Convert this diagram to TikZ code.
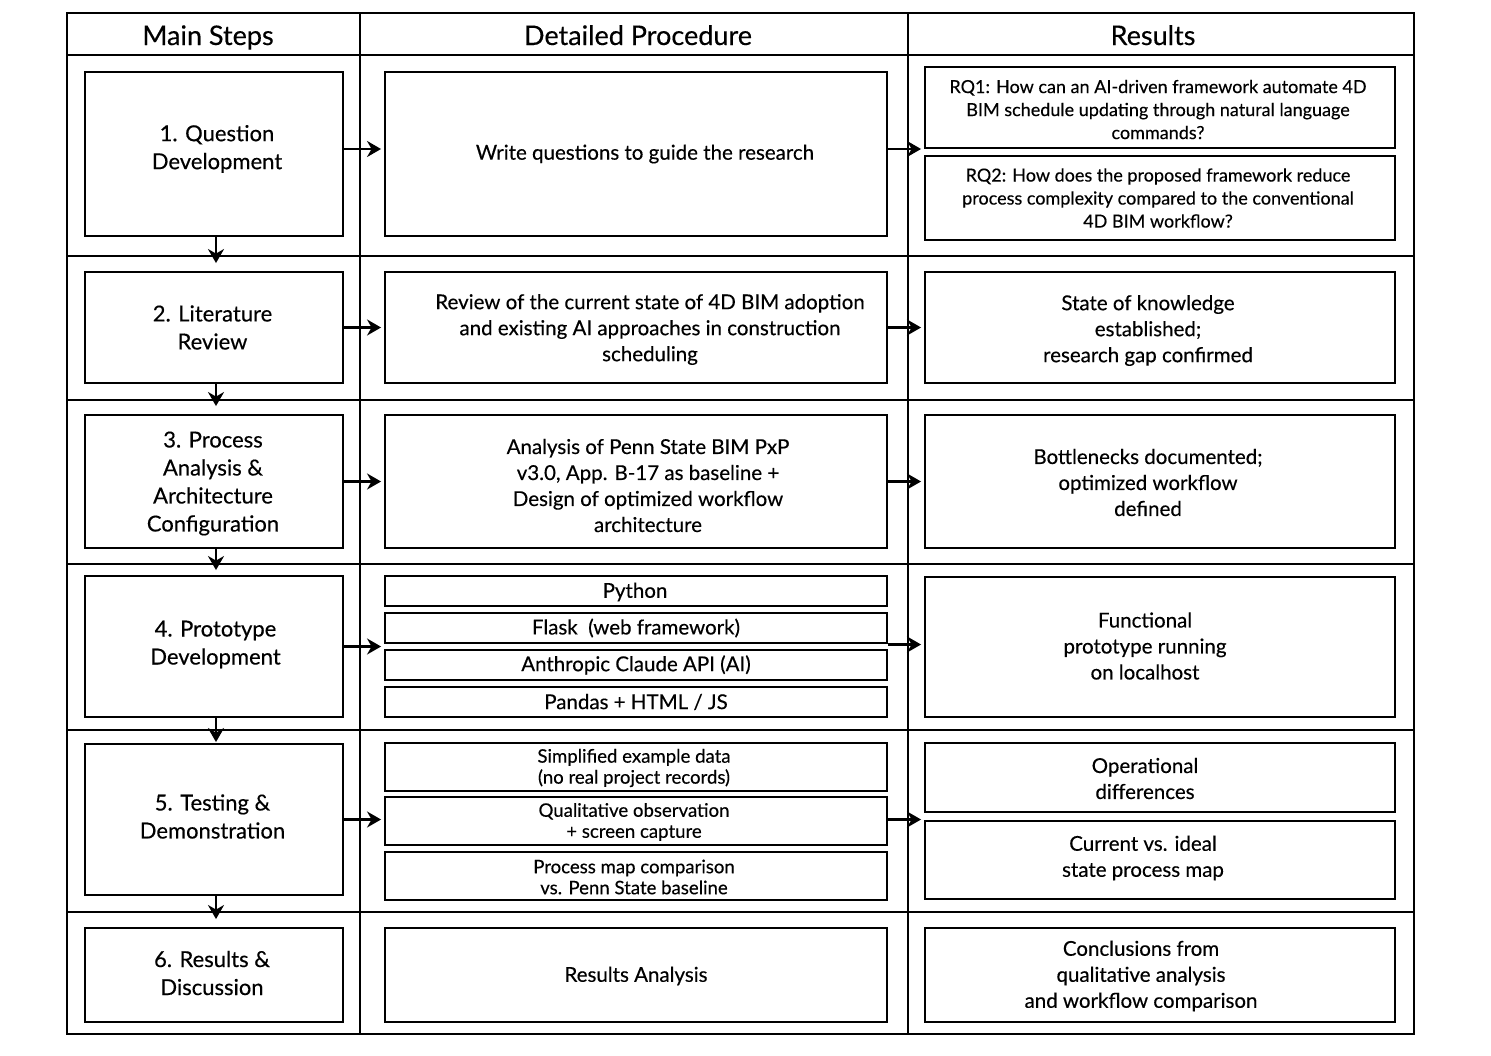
\documentclass[tikz,border=0pt]{standalone}
\usepackage{fontspec}
\setmainfont{Lato}[FakeBold=0.35]
\usetikzlibrary{arrows.meta}
\tikzset{
  box/.style={draw, line width=1.9pt, inner sep=0pt},
  txt/.style={inner sep=0pt, align=center},
  tableline/.style={line width=1.9pt},
  flowarrow/.style={line width=2.2pt, -{Stealth[length=14pt,width=16pt,inset=4.5pt]}},
  hd/.style={font=\fontsize{27}{32}\selectfont, anchor=base, inner sep=0pt},
  mainf/.style={font=\fontsize{22}{28}\selectfont},
  detf/.style={font=\fontsize{20.5}{26}\selectfont},
  rqf/.style={font=\fontsize{18}{23}\selectfont},
  smf/.style={font=\fontsize{18.6}{21}\selectfont},
}
% #1 text style, #2 x1, #3 y1, #4 x2, #5 y2, #6 name, #7 dx, #8 dy, then {text};
\newcommand\tbox[8][]{\node[box,minimum width={(#4-#2)*1pt},minimum height={(#5-#3)*1pt}] (#6) at ({(#2+#4)/2},{(#3+#5)/2}) {};
  \node[txt,#1] (#6t) at ([shift={(#7,#8)}]#6.center)}
\begin{document}
\begin{tikzpicture}[x=1pt,y=-1pt]
\useasboundingbox (0,0) rectangle (1491,1055);
% table grid
\draw[tableline] (67,13) rectangle (1414,1034);
\draw[tableline] (360,13) -- (360,1034);
\draw[tableline] (908,13) -- (908,1034);
\foreach \yy in {55,256,400,564,730,912} \draw[tableline] (67,\yy) -- (1414,\yy);
% headers
\node[hd] (h1) at (208,45) {Main Steps};
\node[hd] (h2) at (638,45) {Detailed Procedure};
\node[hd] (h3) at (1153,45) {Results};
% main steps
\tbox[mainf]{85}{72}{343}{236}{m1}{3}{-5} {1. Question\\Development};
\tbox[mainf]{85}{272}{343}{383}{m2}{-1.5}{0} {2. Literature\\Review};
\tbox[mainf]{85}{415}{343}{548}{m3}{-1}{2} {3. Process\\Analysis \&\\Architecture\\Configuration};
\tbox[mainf]{85}{576}{343}{717}{m4}{1.5}{-2} {4. Prototype\\Development};
\tbox[mainf]{85}{744}{343}{895}{m5}{-1.5}{-3} {5. Testing \&\\Demonstration};
\tbox[mainf]{85}{928}{343}{1022}{m6}{-2}{-2} {6. Results \&\\Discussion};
% detailed procedure
\tbox[detf]{385}{72}{887}{236}{d1}{9}{0} {Write questions to guide the research};
\tbox[detf]{385}{272}{887}{383}{d2}{14}{2} {Review of the current state of 4D BIM adoption\\and existing AI approaches in construction\\scheduling};
\tbox[detf]{385}{415}{887}{548}{d3}{12}{4} {Analysis of Penn State BIM PxP\\v3.0, App. B-17 as baseline +\\Design of optimized workflow\\architecture};
\tbox[detf]{385}{576}{887}{606}{d4a}{-1}{1} {Python};
\tbox[detf]{385}{613}{887}{643}{d4b}{0}{0} {Flask\ \ (web framework)};
\tbox[detf]{385}{650}{887}{680}{d4c}{0}{0} {Anthropic Claude API (AI)};
\tbox[detf]{385}{687}{887}{717}{d4d}{0}{0} {Pandas + HTML / JS};
\tbox[smf]{385}{743}{887}{791}{d5a}{-2}{1} {Simplified example data\\(no real project records)};
\tbox[smf]{385}{797}{887}{845}{d5b}{-2}{1} {Qualitative observation\\+ screen capture};
\tbox[smf]{385}{852}{887}{900}{d5c}{-2}{1} {Process map comparison\\vs. Penn State baseline};
\tbox[detf]{385}{928}{887}{1022}{d6}{0}{1} {Results Analysis};
% results
\tbox[rqf]{925}{67}{1395}{148}{r1a}{-2}{2} {RQ1: How can an AI-driven framework automate 4D\\BIM schedule updating through natural language\\commands?};
\tbox[rqf]{925}{156}{1395}{240}{r1b}{-2}{0} {RQ2: How does the proposed framework reduce\\process complexity compared to the conventional\\4D BIM workflow?};
\tbox[detf]{925}{272}{1395}{383}{r2}{-12}{3} {State of knowledge\\established;\\research gap confirmed};
\tbox[detf]{925}{415}{1395}{548}{r3}{-12}{1} {Bottlenecks documented;\\optimized workflow\\defined};
\tbox[detf]{925}{577}{1395}{717}{r4}{-15}{-1} {Functional\\prototype running\\on localhost};
\tbox[detf]{925}{743}{1395}{812}{r5a}{-15}{1} {Operational\\differences};
\tbox[detf]{925}{821}{1395}{899}{r5b}{-17}{-2} {Current vs. ideal\\state process map};
\tbox[detf]{925}{928}{1395}{1022}{r6}{-19}{1} {Conclusions from\\qualitative analysis\\and workflow comparison};
% vertical arrows
\draw[flowarrow, shorten >=8pt] ([xshift=2pt]m1.south) -- ([xshift=2pt]m2.north);
\draw[flowarrow, shorten >=8pt] ([xshift=2pt]m2.south) -- ([xshift=2pt]m3.north);
\draw[flowarrow, shorten >=5pt] ([xshift=2pt]m3.south) -- ([xshift=2pt]m4.north);
\draw[flowarrow, shorten >=1pt] ([xshift=2pt]m4.south) -- ([xshift=2pt]m5.north);
\draw[flowarrow, shorten >=8pt] ([xshift=2pt]m5.south) -- ([xshift=2pt]m6.north);
% horizontal arrows main -> detail
\draw[flowarrow, shorten >=3pt] ([yshift=5pt]m1.east) -- ([yshift=5pt]d1.west);
\draw[flowarrow, shorten >=3pt] (m2.east) -- (m2.east -| d2.west);
\draw[flowarrow, shorten >=3pt] (m3.east) -- (d3.west);
\draw[flowarrow, shorten >=3pt] (m4.east) -- (m4.east -| d4b.west);
\draw[flowarrow, shorten >=3pt] (m5.east) -- (m5.east -| d5b.west);
% detail -> results
\draw[flowarrow, shorten >=3pt] ([yshift=5pt]d1.east) -- ([yshift=5pt]d1.east -| r1a.west);
\draw[flowarrow, shorten >=3pt] (d2.east) -- (r2.west);
\draw[flowarrow, shorten >=3pt] (d3.east) -- (r3.west);
\draw[flowarrow, shorten >=3pt] ([yshift=2pt]m4.east -| d4b.east) -- ([yshift=2pt]m4.east -| r4.west);
\draw[flowarrow, shorten >=3pt] (m5.east -| d5b.east) -- (m5.east -| r5a.west);
\end{tikzpicture}
\end{document}
